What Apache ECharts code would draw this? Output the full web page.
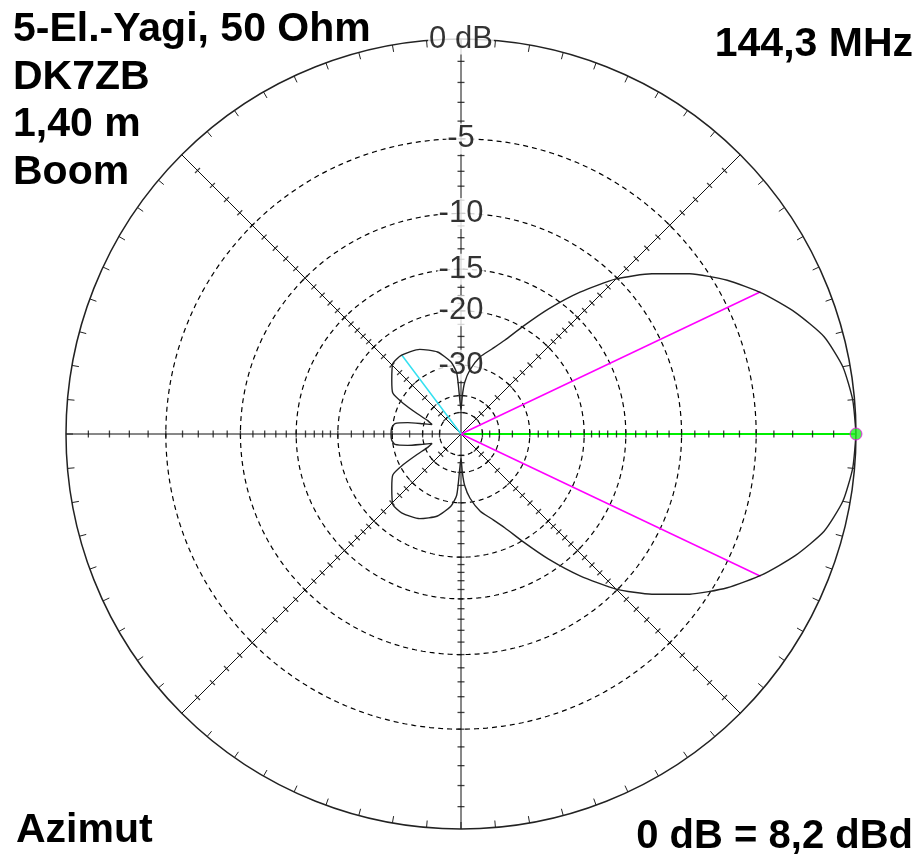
<!DOCTYPE html>
<html>
<head>
<meta charset="utf-8">
<script src="https://cdn.jsdelivr.net/npm/echarts@6/dist/echarts.min.js"></script>
<style>
  html, body { margin: 0; background: #fff; }
  #chart { width: 923px; height: 854px; }
</style>
</head>
<body>
<div id="chart"></div>
<script>
// 方向图（上半平面，0..180°），下半平面镜像
const patternAngles = [0, 5, 10, 15, 20, 25, 30, 35, 40, 45, 50, 55, 60, 65, 70, 76, 82, 86, 88, 90, 92, 94, 98, 106, 116, 127, 134, 142, 149, 152, 155, 158, 162, 165, 168, 171, 175, 180];
const patternDb = [0, -0.08, -0.32, -0.85, -1.8, -2.95, -4.3, -5.95, -7.9, -10.1, -13.0, -16.3, -19.8, -23.0, -25.3, -27.5, -31, -35, -40, -48, -42, -32, -29, -26.3, -24.6, -23.8, -23.9, -25.8, -27.5, -30.8, -36, -41, -44, -39.5, -34, -30.5, -29.8, -29.7];

// 刻度与标注
const ringDb = [-5, -10, -15, -20, -30, -40, -50];
const ringLabels = ['-5', '-10', '-15', '-20', '-30'];
const ringLabelDb = [-5, -10, -15, -20, -30];
const axisAngles = [0, 45, 90, 135, 180, 225, 270, 315];
const tickDb = [-1, -2, -3, -4, -6, -7, -8, -9, -11, -12, -13, -14, -16, -17, -18, -19, -22, -24, -26, -28, -35, -45];
const beamWidthAngle = 25.4;   // -3 dB 点
const beamWidthDb = -3;
const sideLobeAngle = 126.9;   // 最大旁瓣
const sideLobeDb = -23.8;

// ARRL 对数刻度：每 2 dB 半径乘 0.89
function toR(db) {
    return Math.pow(0.89, -db / 2);
}

const chart = echarts.init(document.getElementById('chart'));

// 方向图闭合曲线
const patternData = [];
patternAngles.forEach((a, i) => patternData.push([toR(patternDb[i]), a]));
for (let i = patternAngles.length - 2; i >= 0; i--) {
    patternData.push([toR(patternDb[i]), 360 - patternAngles[i]]);
}

// 虚线圆环
const ringSeries = ringDb.map(db => {
    const pts = [];
    for (let a = 0; a <= 360; a += 1) pts.push([toR(db), a]);
    return {
        type: 'line',
        coordinateSystem: 'polar',
        data: pts,
        symbol: 'none',
        silent: true,
        z: 1,
        lineStyle: { color: '#000', width: 1.2, type: [5, 4] }
    };
});

// 径向刻度线
const tickData = [];
axisAngles.forEach(a => {
    ringDb.concat(tickDb).forEach(db => tickData.push([toR(db), a]));
});

const labelFont = 'Liberation Sans, Arial, sans-serif';

const option = {
    animation: false,
    backgroundColor: '#fff',
    polar: {
        center: [461, 434],
        radius: 395
    },
    radiusAxis: {
        type: 'value',
        min: 0,
        max: 1,
        axisLine: { show: false },
        axisTick: { show: false },
        axisLabel: { show: false },
        splitLine: { show: false }
    },
    angleAxis: {
        type: 'value',
        min: 0,
        max: 360,
        interval: 45,
        startAngle: 0,
        clockwise: false,
        axisLine: { lineStyle: { color: '#222', width: 1.5 } },
        axisTick: { show: true, inside: true, length: 7, lineStyle: { color: '#222' } },
        minorTick: { show: true, splitNumber: 9, length: 7, lineStyle: { color: '#222' } },
        axisLabel: { show: false },
        splitLine: { show: true, lineStyle: { color: '#111', width: 1 } }
    },
    graphic: [
        { type: 'text', left: 13, top: 6, style: { text: '5-El.-Yagi, 50 Ohm\nDK7ZB\n1,40 m\nBoom', font: 'bold 41px ' + labelFont, lineHeight: 47.5, fill: '#000' } },
        { type: 'text', right: 10, top: 24, style: { text: '144,3 MHz', font: 'bold 41px ' + labelFont, fill: '#000' } },
        { type: 'text', left: 16, top: 810, style: { text: 'Azimut', font: 'bold 41px ' + labelFont, fill: '#000' } },
        { type: 'text', right: 10, top: 817, style: { text: '0 dB = 8,2 dBd', font: 'bold 40px ' + labelFont, fill: '#000' } }
    ],
    series: ringSeries.concat([
        {
            type: 'line',
            coordinateSystem: 'polar',
            data: [[0, 0], [1, 0]],
            symbol: 'none',
            z: 2,
            lineStyle: { color: '#00ee00', width: 2 }
        },
        {
            type: 'scatter',
            coordinateSystem: 'polar',
            data: tickData,
            symbol: 'rect',
            symbolSize: [1.3, 7],
            symbolRotate: v => v[1],
            silent: true,
            z: 3,
            itemStyle: { color: '#111' }
        },
        {
            // dB 标注
            type: 'scatter',
            coordinateSystem: 'polar',
            data: ringLabelDb.map((db, i) => ({ value: [toR(db), 90], name: ringLabels[i] }))
                .concat([{ value: [1, 90], name: '0 dB' }]),
            symbolSize: 0,
            silent: true,
            z: 3,
            label: {
                show: true,
                position: 'inside',
                formatter: p => p.name,
                fontFamily: labelFont,
                fontSize: 31,
                color: '#000',
                backgroundColor: '#fff',
                padding: [0, 1]
            }
        },
        {
            type: 'line',
            coordinateSystem: 'polar',
            data: [[0, beamWidthAngle], [toR(beamWidthDb), beamWidthAngle]],
            symbol: 'none',
            z: 4,
            lineStyle: { color: '#ff00ff', width: 1.5 }
        },
        {
            type: 'line',
            coordinateSystem: 'polar',
            data: [[0, 360 - beamWidthAngle], [toR(beamWidthDb), 360 - beamWidthAngle]],
            symbol: 'none',
            z: 4,
            lineStyle: { color: '#ff00ff', width: 1.5 }
        },
        {
            type: 'line',
            coordinateSystem: 'polar',
            data: [[0, sideLobeAngle], [toR(sideLobeDb), sideLobeAngle]],
            symbol: 'none',
            z: 4,
            lineStyle: { color: '#33e0f0', width: 1.5 }
        },
        {
            type: 'line',
            coordinateSystem: 'polar',
            data: patternData,
            symbol: 'none',
            smooth: 0.2,
            z: 5,
            lineStyle: { color: '#222', width: 1.4 }
        },
        {
            type: 'scatter',
            coordinateSystem: 'polar',
            data: [[1, 0]],
            symbolSize: 12,
            z: 6,
            itemStyle: { color: '#22ee22', borderColor: '#ff00ff', borderWidth: 1 }
        }
    ])
};

chart.setOption(option);
</script>
</body>
</html>
